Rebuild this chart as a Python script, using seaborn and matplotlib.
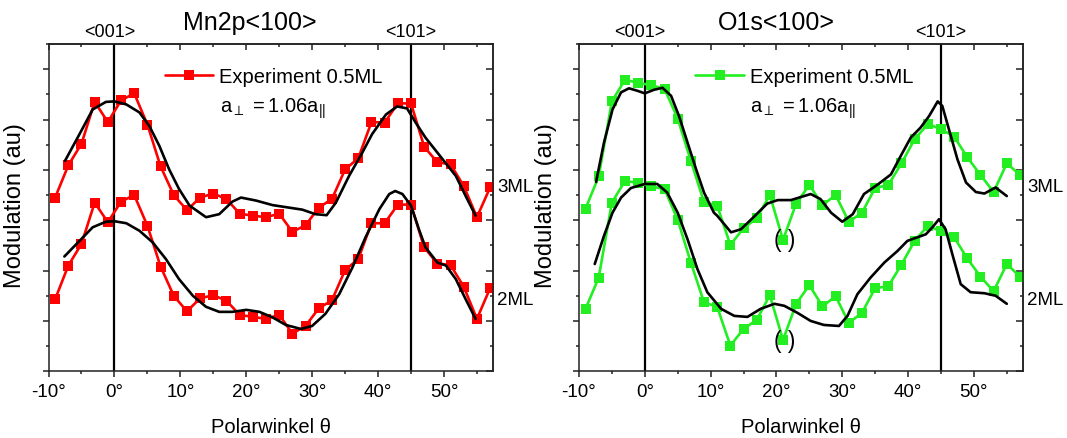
import matplotlib
matplotlib.use("Agg")
import matplotlib.pyplot as plt
import numpy as np
import pandas as pd
import seaborn as sns
from matplotlib.ticker import MultipleLocator, FixedLocator, FixedFormatter

# ---------------------------------------------------------------- data
# measured polar angles (deg)
theta_exp = list(range(-9, 58, 2))

# Mn2p <100>, experiment 0.5 ML (offset traces for 3 ML and 2 ML)
mn_3ml_exp = [3.45, 4.09, 4.52, 5.35, 4.95, 5.38, 5.52, 4.90, 4.07, 3.50,
              3.20, 3.45, 3.53, 3.42, 3.13, 3.09, 3.06, 3.13, 2.77, 2.90,
              3.25, 3.42, 4.01, 4.23, 4.95, 4.94, 5.32, 5.32, 4.46, 4.15,
              4.11, 3.68, 3.06, 3.65]
mn_2ml_exp = [1.43, 2.10, 2.53, 3.35, 2.96, 3.37, 3.50, 2.89, 2.08, 1.50,
              1.19, 1.45, 1.51, 1.40, 1.12, 1.08, 1.04, 1.12, 0.75, 0.90,
              1.25, 1.41, 2.01, 2.23, 2.94, 2.94, 3.31, 3.31, 2.46, 2.14,
              2.11, 1.68, 1.04, 1.65]

# O1s <100>, experiment 0.5 ML
o_3ml_exp = [3.23, 3.87, 5.36, 5.79, 5.73, 5.68, 5.61, 5.02, 4.18, 3.36,
             3.29, 2.51, 2.84, 3.04, 3.50, 2.61, 3.33, 3.70, 3.30, 3.50,
             2.97, 3.15, 3.64, 3.70, 4.13, 4.61, 4.91, 4.81, 4.66, 4.25,
             3.90, 3.56, 4.13, 3.90]
o_2ml_exp = [1.24, 1.86, 3.35, 3.78, 3.74, 3.67, 3.62, 3.01, 2.16, 1.37,
             1.28, 0.51, 0.84, 1.02, 1.51, 0.62, 1.34, 1.71, 1.29, 1.49,
             0.96, 1.16, 1.65, 1.69, 2.12, 2.59, 2.89, 2.78, 2.66, 2.24,
             1.88, 1.59, 2.13, 1.88]

# simulated curves (a_perp = 1.06 a_par)
mn_3ml_sim_theta = [-7.5, -5.3, -3.3, -1.3, 0.0, 1.8, 3.8, 5.3, 6.8, 8.3,
                    9.8, 11.4, 13.9, 15.9, 17.9, 19.2, 21.5, 24.0, 27.0, 28.5,
                    30.5, 32.2, 33.6, 35.6, 37.6, 39.1, 41.2, 42.9, 44.4, 45.7,
                    47.2, 49.2, 51.8, 53.3, 54.8]
mn_3ml_sim = [4.18, 4.71, 5.20, 5.35, 5.36, 5.30, 5.14, 4.87, 4.48, 4.01,
              3.62, 3.29, 3.06, 3.12, 3.37, 3.45, 3.39, 3.30, 3.24, 3.21,
              3.12, 3.10, 3.35, 3.88, 4.34, 4.71, 5.10, 5.26, 5.22, 4.94,
              4.64, 4.31, 3.88, 3.48, 3.09]

mn_2ml_sim_theta = [-7.6, -5.3, -3.3, -1.3, 0.0, 1.8, 3.8, 5.8, 7.8, 9.8,
                    11.9, 13.9, 15.9, 17.9, 20.0, 22.0, 24.0, 26.0, 28.3, 30.0,
                    32.0, 34.1, 36.1, 38.1, 40.2, 41.7, 42.6, 43.7, 45.0, 46.2,
                    47.2, 49.0, 50.3, 51.8, 53.3, 54.8]
mn_2ml_sim = [2.28, 2.59, 2.86, 2.97, 2.98, 2.94, 2.79, 2.56, 2.23, 1.83,
              1.50, 1.28, 1.18, 1.18, 1.22, 1.18, 1.07, 0.92, 0.84, 0.90,
              1.14, 1.53, 2.06, 2.66, 3.22, 3.52, 3.58, 3.52, 3.29, 2.82,
              2.46, 2.16, 2.10, 1.83, 1.43, 1.04]

o_3ml_sim_theta = [-7.4, -6.2, -4.9, -3.6, -2.4, -1.1, 0.0, 1.4, 2.7, 4.0,
                   5.2, 6.5, 7.8, 9.0, 10.5, 11.0, 13.1, 14.6, 16.6, 18.6,
                   20.2, 22.2, 24.2, 25.2, 26.7, 28.3, 30.0, 31.6, 33.3, 35.4,
                   37.4, 38.9, 40.4, 41.9, 43.2, 44.5, 45.2, 46.2, 47.5, 48.8,
                   50.3, 51.6, 53.3, 55.0]
o_3ml_sim = [3.76, 4.54, 5.20, 5.54, 5.62, 5.57, 5.52, 5.59, 5.63, 5.47,
             5.07, 4.54, 4.01, 3.55, 3.15, 3.09, 2.76, 2.82, 3.07, 3.33,
             3.40, 3.40, 3.48, 3.52, 3.42, 3.15, 2.97, 3.12, 3.52, 3.71,
             3.91, 4.28, 4.64, 4.84, 5.07, 5.36, 5.27, 4.81, 4.21, 3.75,
             3.56, 3.53, 3.65, 3.48]

o_2ml_sim_theta = [-7.6, -6.2, -4.9, -3.6, -2.1, 0.0, 1.9, 3.4, 5.0, 6.5,
                   8.0, 9.5, 11.6, 13.6, 15.6, 17.6, 19.7, 21.2, 23.2, 25.2,
                   27.2, 29.5, 30.8, 32.3, 34.3, 36.4, 38.4, 39.9, 41.4, 42.7,
                   43.7, 44.7, 45.7, 46.8, 48.0, 49.5, 51.6, 53.3, 55.0]
o_2ml_sim = [2.13, 2.69, 3.15, 3.45, 3.64, 3.72, 3.72, 3.55, 3.15, 2.62,
             2.03, 1.57, 1.24, 1.10, 1.08, 1.24, 1.34, 1.30, 1.16, 1.00,
             0.92, 0.90, 1.10, 1.53, 1.86, 2.16, 2.39, 2.59, 2.66, 2.72,
             2.86, 3.02, 2.82, 2.29, 1.73, 1.57, 1.55, 1.50, 1.34]

# bracketed (doubtful) O1s points
o_bracket_theta = 21
o_bracket_values = [o_3ml_exp[theta_exp.index(21)], o_2ml_exp[theta_exp.index(21)]]

x_ticks = [-10, 0, 10, 20, 30, 40, 50]
x_tick_labels = ["-10°", "0°", "10°", "20°", "30°", "40°", "50°"]
directions = [(0, "<001>"), (45, "<101>")]
layer_labels = [(3.66, "3ML"), (1.42, "2ML")]

# ---------------------------------------------------------------- style
sns.set_theme(style="ticks")
plt.rcParams["font.family"] = ["Liberation Sans", "DejaVu Sans"]
plt.rcParams["mathtext.fontset"] = "custom"
plt.rcParams["mathtext.rm"] = "Liberation Sans"
plt.rcParams["mathtext.it"] = "Liberation Sans"
plt.rcParams["mathtext.sf"] = "Liberation Sans"
for key in ("text.color", "axes.labelcolor", "xtick.color", "ytick.color",
            "axes.edgecolor"):
    plt.rcParams[key] = "black"

fig = plt.figure(figsize=(10.67, 4.39), dpi=100)
ax_l = fig.add_axes([0.0455, 0.152, 0.4169, 0.7455])
ax_r = fig.add_axes([0.5426, 0.152, 0.4164, 0.7455])

spine_w = 1.1
spine_c = "#222222"


def draw_panel(ax, title, title_x, color, exp3, exp2, sim3_t, sim3, sim2_t, sim2):
    for i, vals in enumerate((exp3, exp2)):
        df = pd.DataFrame({"theta": theta_exp, "mod": vals})
        sns.lineplot(data=df, x="theta", y="mod", ax=ax, color=color,
                     linewidth=1.9, marker="s", markersize=6.5,
                     markeredgewidth=0, estimator=None, sort=False,
                     label="Experiment 0.5ML" if i == 0 else None)
    for t, v in ((sim3_t, sim3), (sim2_t, sim2)):
        df = pd.DataFrame({"theta": t, "mod": v})
        sns.lineplot(data=df, x="theta", y="mod", ax=ax, color="black",
                     linewidth=1.9, estimator=None, sort=False,
                     solid_joinstyle="round", solid_capstyle="round")

    for xv, lab in directions:
        ax.axvline(xv, color="black", linewidth=1.6, zorder=1)
        ax.text(xv - (0.7 if xv == 0 else 0.0), 1.037, lab,
                transform=ax.get_xaxis_transform(), ha="center", va="center",
                fontsize=13)

    ax.text(title_x, 1.067, title, transform=ax.transAxes, ha="center",
            va="center", fontsize=18)

    for yv, lab in layer_labels:
        ax.text(58.1, yv, lab, ha="left", va="center", fontsize=13.5,
                clip_on=False)

    ax.set_xlim(-10, 57.5)
    ax.set_ylim(0, 6.5)

    ax.xaxis.set_major_locator(FixedLocator(x_ticks))
    ax.xaxis.set_major_formatter(FixedFormatter(x_tick_labels))
    ax.xaxis.set_minor_locator(MultipleLocator(5))
    ax.yaxis.set_major_locator(MultipleLocator(1))
    ax.yaxis.set_minor_locator(MultipleLocator(0.5))
    ax.tick_params(axis="x", which="both", direction="out", bottom=True,
                   top=False, labelsize=13.5, pad=4, width=spine_w,
                   color=spine_c)
    ax.tick_params(axis="x", which="major", length=4.5)
    ax.tick_params(axis="x", which="minor", length=2.5)
    ax.tick_params(axis="y", which="both", direction="out", left=True,
                   right=False, labelleft=False, width=spine_w,
                   color=spine_c)
    ax.tick_params(axis="y", which="major", length=4.5)
    ax.tick_params(axis="y", which="minor", length=2.5)

    top = ax.secondary_xaxis("top")
    top.xaxis.set_major_locator(FixedLocator(x_ticks))
    top.xaxis.set_minor_locator(MultipleLocator(5))
    top.tick_params(which="both", direction="in", labeltop=False,
                    width=spine_w, color=spine_c)
    top.tick_params(which="major", length=4.5)
    top.tick_params(which="minor", length=2.5)
    top.spines["top"].set_linewidth(spine_w)
    top.spines["top"].set_color(spine_c)

    right = ax.secondary_yaxis("right")
    right.yaxis.set_major_locator(MultipleLocator(1))
    right.yaxis.set_minor_locator(MultipleLocator(0.5))
    right.tick_params(which="both", direction="in", labelright=False,
                      width=spine_w, color=spine_c)
    right.tick_params(which="major", length=5)
    right.tick_params(which="minor", length=2.5)
    right.spines["right"].set_linewidth(spine_w)
    right.spines["right"].set_color(spine_c)

    for sp in ax.spines.values():
        sp.set_linewidth(spine_w)
        sp.set_color(spine_c)
        sp.set_visible(True)

    ax.set_xlabel("Polarwinkel θ", fontsize=14.5)
    ax.xaxis.set_label_coords(0.5, -0.14)
    ax.set_ylabel("Modulation (au)", fontsize=17)
    ax.yaxis.set_label_coords(-0.05, 0.51)

    leg = ax.legend(loc="center left", bbox_to_anchor=(0.262, 0.902),
                    frameon=False, fontsize=14.5, handlelength=2.4,
                    handletextpad=0.3, borderpad=0, borderaxespad=0)
    for h in leg.legend_handles:
        h.set_linewidth(1.9)

    ax.text(0.385, 0.792, r"$\mathregular{a_{\perp}\,=1.06a_{||}}$",
            transform=ax.transAxes, ha="left", va="baseline", fontsize=14.5)


draw_panel(ax_l, "Mn2p<100>", 0.452, "#ff0000",
           mn_3ml_exp, mn_2ml_exp,
           mn_3ml_sim_theta, mn_3ml_sim, mn_2ml_sim_theta, mn_2ml_sim)
draw_panel(ax_r, "O1s<100>", 0.444, "#22ee22",
           o_3ml_exp, o_2ml_exp,
           o_3ml_sim_theta, o_3ml_sim, o_2ml_sim_theta, o_2ml_sim)

for v in o_bracket_values:
    ax_r.text(o_bracket_theta + 0.3, v, "( )", ha="center", va="center",
              fontsize=16.5)

fig.savefig("out.png", dpi=100)
